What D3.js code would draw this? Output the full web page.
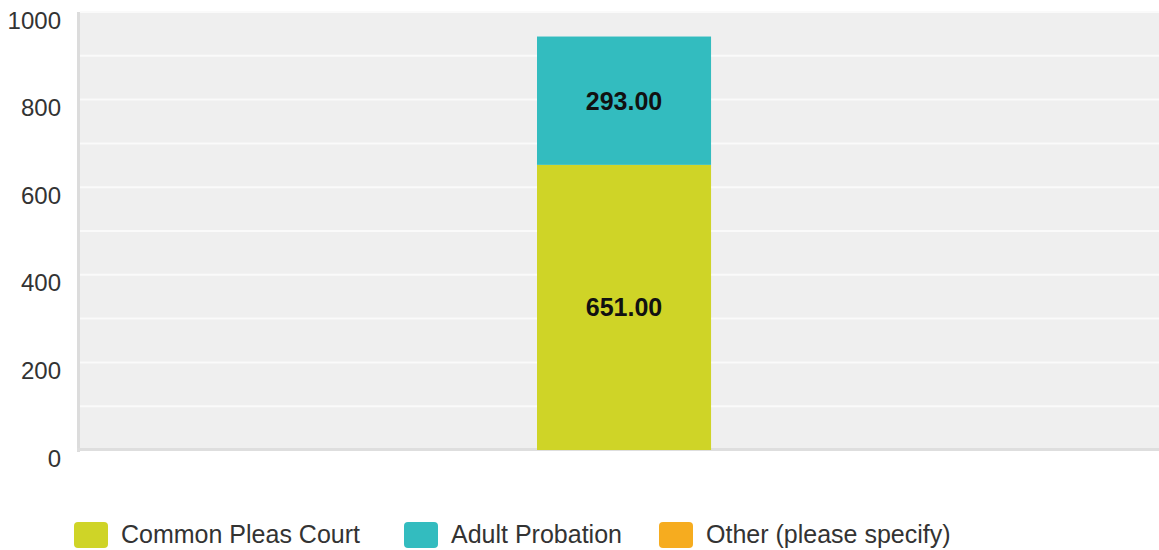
<!DOCTYPE html>
<html>
<head>
<meta charset="utf-8">
<script src="https://cdn.jsdelivr.net/npm/d3@7"></script>
<style>
  body { margin: 0; background: #fff; }
  svg { display: block; font-family: "Liberation Sans", Arial, sans-serif; }
</style>
</head>
<body>
<div id="chart"></div>
<script>
// chart data
var categories = [""];
var seriesNames = ["Common Pleas Court", "Adult Probation", "Other (please specify)"];
var seriesColors = ["#cfd427", "#33bcbf", "#f6ac1f"];
var seriesValues = [[651], [293], [0]];
var yTicks = [0, 200, 400, 600, 800, 1000];

var width = 1159, height = 550;
var plot = { left: 80, right: 1159, top: 12, bottom: 450 };

var svg = d3.select("#chart").append("svg")
    .attr("width", width)
    .attr("height", height);

var y = d3.scaleLinear().domain([0, 1000]).range([plot.bottom, plot.top]);
var x = d3.scaleBand().domain(categories).range([plot.left, plot.right])
    .paddingInner(0).paddingOuter(2.6).align(0.505);

// background
svg.append("rect")
    .attr("x", plot.left).attr("y", plot.top)
    .attr("width", plot.right - plot.left).attr("height", plot.bottom - plot.top)
    .attr("fill", "#efefef");

// gridlines every 100
svg.selectAll("line.grid")
    .data(d3.range(100, 1001, 100))
    .enter().append("line")
    .attr("class", "grid")
    .attr("x1", plot.left).attr("x2", plot.right)
    .attr("y1", function (d) { return y(d); })
    .attr("y2", function (d) { return y(d); })
    .attr("stroke", "#fafafa")
    .attr("stroke-width", 2);

// axis lines (soft grey)
svg.append("rect")
    .attr("x", plot.left - 3).attr("y", plot.top)
    .attr("width", 3).attr("height", plot.bottom - plot.top + 2)
    .attr("fill", "#dcdcdc");
svg.append("rect")
    .attr("x", plot.left - 3).attr("y", plot.bottom - 2)
    .attr("width", plot.right - plot.left + 3).attr("height", 3)
    .attr("fill", "#dedede");

// y tick labels
svg.selectAll("text.ytick")
    .data(yTicks)
    .enter().append("text")
    .attr("class", "ytick")
    .attr("x", 61)
    .attr("y", function (d) { return y(d) + 16.5; })
    .attr("text-anchor", "end")
    .attr("font-size", 24)
    .attr("fill", "#333")
    .text(function (d) { return d; });

// stacked bars
var rows = categories.map(function (c, i) {
    var r = { cat: c };
    seriesNames.forEach(function (s, j) { r[s] = seriesValues[j][i]; });
    return r;
});
var stacked = d3.stack().keys(seriesNames)(rows);

var layer = svg.selectAll("g.layer")
    .data(stacked)
    .enter().append("g")
    .attr("class", "layer")
    .attr("fill", function (d, i) { return seriesColors[i]; });

layer.selectAll("rect")
    .data(function (d) { return d.filter(function (p) { return p[1] - p[0] > 0; }); })
    .enter().append("rect")
    .attr("x", function (d) { return x(d.data.cat); })
    .attr("width", x.bandwidth())
    .attr("y", function (d) { return y(d[1]); })
    .attr("height", function (d) { return y(d[0]) - y(d[1]); });

layer.selectAll("text")
    .data(function (d) { return d.filter(function (p) { return p[1] - p[0] > 0; }); })
    .enter().append("text")
    .attr("x", function (d) { return x(d.data.cat) + x.bandwidth() / 2; })
    .attr("y", function (d) { return (y(d[0]) + y(d[1])) / 2 + 9; })
    .attr("text-anchor", "middle")
    .attr("font-weight", "bold")
    .attr("font-size", 25)
    .attr("fill", "#111")
    .text(function (d) { return (d[1] - d[0]).toFixed(2); });

// legend
var legendX = [74, 404, 659];
var legend = svg.selectAll("g.legend")
    .data(seriesNames)
    .enter().append("g")
    .attr("class", "legend")
    .attr("transform", function (d, i) { return "translate(" + legendX[i] + ",522)"; });

legend.append("rect")
    .attr("width", 34).attr("height", 26)
    .attr("rx", 4).attr("ry", 4)
    .attr("fill", function (d, i) { return seriesColors[i]; });

legend.append("text")
    .attr("x", 47).attr("y", 21)
    .attr("font-size", 25)
    .attr("fill", "#333")
    .text(function (d) { return d; });
</script>
</body>
</html>
